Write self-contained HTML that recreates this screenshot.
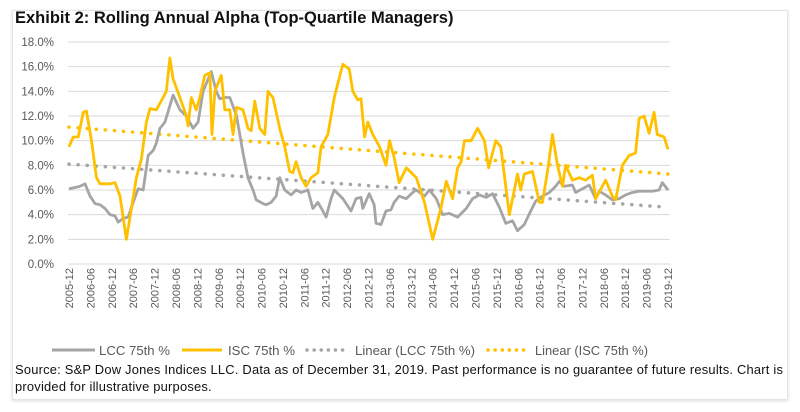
<!DOCTYPE html>
<html><head><meta charset="utf-8"><style>
body{margin:0;background:#fff;width:800px;height:412px;overflow:hidden;font-family:"Liberation Sans",Arial,sans-serif;}
#box{position:absolute;left:12px;top:10px;width:774px;height:388px;border:1px solid #e4e4e4;box-shadow:0 1px 3px rgba(0,0,0,0.15);background:#fff;}
#title{position:absolute;left:15px;top:9px;font-weight:bold;font-size:16.5px;color:#111;}
#src{position:absolute;left:15px;top:361px;font-size:12.9px;letter-spacing:0.22px;color:#111;line-height:17px;white-space:nowrap;}
svg{position:absolute;left:0;top:0;}
</style></head><body>
<div id="box"></div>
<div id="title">Exhibit 2: Rolling Annual Alpha (Top-Quartile Managers)</div>
<svg id="chart" width="800" height="412"></svg>
<div id="src">Source: S&amp;P Dow Jones Indices LLC. Data as of December 31, 2019. Past performance is no guarantee of future results. Chart is<br>provided for illustrative purposes.</div>
<script>
const yTicks=[0,2,4,6,8,10,12,14,16,18];
const xLabels=[];for(let y=2005;y<=2019;y++){if(y>2005)xLabels.push(y+'-06');xLabels.push(y+'-12');}
const iscMonths=[0,1.2,2.6,4,4.9,6.3,7.7,8.7,11.5,12.9,14.3,16.1,17.5,18.9,20.3,21.7,22.7,24.5,26.4,27.3,28.3,29.2,31.1,32.9,33.4,34.3,35.7,36.7,38.1,39.5,40.1,40.9,42.7,43.7,45.1,46,47,48.8,50.2,51.1,52.1,53.5,54.9,55.8,57.2,59.1,60.5,61.9,62.8,63.7,65.1,66.5,67.9,69.8,70.7,72.6,74.4,76.8,78.6,79.6,81,81.9,82.9,83.8,85.2,87.1,88.9,89.9,91.3,92.6,94.6,97.4,99.7,102,104.3,105.8,107.6,109,110,110.9,112.8,114.6,116.5,117.7,119.7,121.1,123.5,125.8,126.7,127.7,130,131.9,132.8,134.2,135.6,137,138.4,139.3,141.2,143.1,144.9,146.8,147.7,150.5,152.4,153.3,155.2,157.1,158.9,159.9,161.3,162.7,164.1,165,166.9,168];
const iscValues=[9.5,10.3,10.3,12.3,12.4,10,7,6.5,6.5,6.6,5.5,2.0,4.5,7,8.5,11.5,12.6,12.5,13.5,14,16.7,15,13.5,12,11.2,13.5,12.5,13.5,15.3,15.5,10.5,14,15.3,12.5,12.5,10.5,12.7,12.5,11,10.8,13.2,11,10.5,14,13.5,11,9.5,7.5,7.4,8.3,7,6.3,7,7.4,9.5,10.5,13.5,16.2,15.8,14,13.3,13.4,10.3,11.5,10.5,9.5,8,10,8.5,6.6,7.8,7,5,2.0,4.5,6.7,5.3,7.8,8.3,10,10,11,10,7.8,10,9.5,4.0,7.3,6,7.3,7.5,5.0,5.0,7.5,10.5,8,6.3,8,6.8,7,6.8,7.2,5.3,6.8,5.5,5.2,8,8.8,9,11.8,12,10.6,12.3,10.5,10.3,9.3];
const lccMonths=[0,1.7,3.1,4.5,5.9,7.3,8.7,10.1,11.5,12.9,13.8,15.2,16.6,18,19.4,20.8,22.2,23.6,24.5,25.5,26.9,29.2,31.1,32.9,34.8,36.2,37.6,39.9,41.3,42.3,43.7,45.1,47,48.8,50.2,51.6,52.5,54.4,55.3,56.7,58.1,59.1,60.5,62.3,63.7,65.1,67,68.4,69.8,71.2,72.1,73.5,74.4,76.8,79.1,80.5,81.9,82.4,84.2,85.6,86.1,87.5,88.9,90.3,91.2,92.6,94.6,96.4,97.4,99.7,101.1,103,104.8,106.7,109,111.4,113.2,115.1,117,118.8,120.7,122.5,124.4,125.8,127.7,129.5,130.9,132.8,134.7,136.5,137.5,138.9,141.2,142.1,144,145.9,147.7,148.7,150.5,152.4,154.3,156.1,158,159.9,161.7,163.6,165.5,166.4,168];
const lccValues=[6.1,6.2,6.3,6.5,5.5,4.9,4.8,4.5,4.0,3.9,3.4,3.7,3.8,5,6.1,6,8.8,9.2,9.8,11,11.5,13.7,12.5,12,11,11.5,14,15.6,14,13.4,13.5,13.5,12,9,7,6,5.2,4.9,4.8,5,5.5,7,6,5.6,6,5.8,6.0,4.5,5,4.3,3.8,5.3,6,5.3,4.3,5.3,5.4,4.5,5.7,4.8,3.3,3.2,4.3,4.4,5,5.5,5.3,5.8,6.0,5.5,6,5.3,4,4.1,3.8,4.5,5.3,5.6,5.4,5.7,4.6,3.3,3.5,2.7,3.2,4.3,5.1,5.5,5.8,6.3,6.7,6.3,6.4,5.8,6.1,6.4,5.3,5.9,5.6,5.2,5.3,5.6,5.8,5.9,5.9,5.9,6.0,6.6,6.0];
const lccTrend=[8.1,4.6];
const iscTrend=[11.1,7.3];
const totalMonths=168;

const X0=69,X1=668,Y0=264,Y1=42;
const xs=m=>X0+(X1-X0)*m/totalMonths;
const ys=v=>Y0-(Y0-Y1)*v/18;
const svg=document.getElementById('chart');const NS='http://www.w3.org/2000/svg';
function mk(t,a,p){const e=document.createElementNS(NS,t);for(const k in a)e.setAttribute(k,a[k]);(p||svg).appendChild(e);return e;}
yTicks.forEach(v=>{
 const g=mk('line',{x1:X0-1,x2:X1+2,y1:ys(v),y2:ys(v),stroke:'#d9d9d9','stroke-width':1});
 
 
 const t=mk('text',{x:54,y:ys(v)+4,'text-anchor':'end','font-size':'11.5','fill':'#595959','font-family':'Liberation Sans, Arial, sans-serif'});
 t.textContent=v.toFixed(1)+'%';
 
 
});
xLabels.forEach((l,i)=>{
 const x=xs(i*6)+4;
 const t=mk('text',{x:0,y:0,transform:`translate(${x},${268}) rotate(-90)`,'text-anchor':'end','font-size':'11','fill':'#595959','font-family':'Liberation Sans, Arial, sans-serif'});
 t.textContent=l;
 
 
});
function trend(tr,col,name){
 const l=mk('line',{x1:xs(0),y1:ys(tr[0]),x2:xs(totalMonths),y2:ys(tr[1]),stroke:col,'stroke-width':3.5,'stroke-dasharray':'0.1 9','stroke-linecap':'round'});
 
 
}
function series(ms,vs,col,name){
 const p=mk('polyline',{points:ms.map((m,i)=>xs(m)+','+ys(vs[i])).join(' '),fill:'none',stroke:col,'stroke-width':2.8,'stroke-linejoin':'round'});
 
 
}
trend(lccTrend,'#a6a6a6','lcc-trendline');
trend(iscTrend,'#ffc000','isc-trendline');
series(lccMonths,lccValues,'#a5a5a5','lcc-line');
series(iscMonths,iscValues,'#ffc000','isc-line');
const lg=mk('g',{});
const items=[[52,95,'#a5a5a5',false,99,'LCC 75th %',71],[182,222,'#ffc000',false,228,'ISC 75th %',67],[307,347,'#a6a6a6',true,355,'Linear (LCC 75th %)',120],[488,526,'#ffc000',true,535,'Linear (ISC 75th %)',113]];
items.forEach(it=>{
 const a={x1:it[0],x2:it[1],y1:350,y2:350,stroke:it[2],'stroke-width':3};
 if(it[3]){a['stroke-dasharray']='0.1 7';a['stroke-linecap']='round';a['stroke-width']=3.5;}
 const l=mk('line',a,lg);
 
 
 const t=mk('text',{x:it[4],y:355,'font-size':'13','fill':'#595959','font-family':'Liberation Sans, Arial, sans-serif',textLength:it[6],lengthAdjust:'spacingAndGlyphs'},lg);
 t.textContent=it[5];
 
 
});
</script>
</body></html>
